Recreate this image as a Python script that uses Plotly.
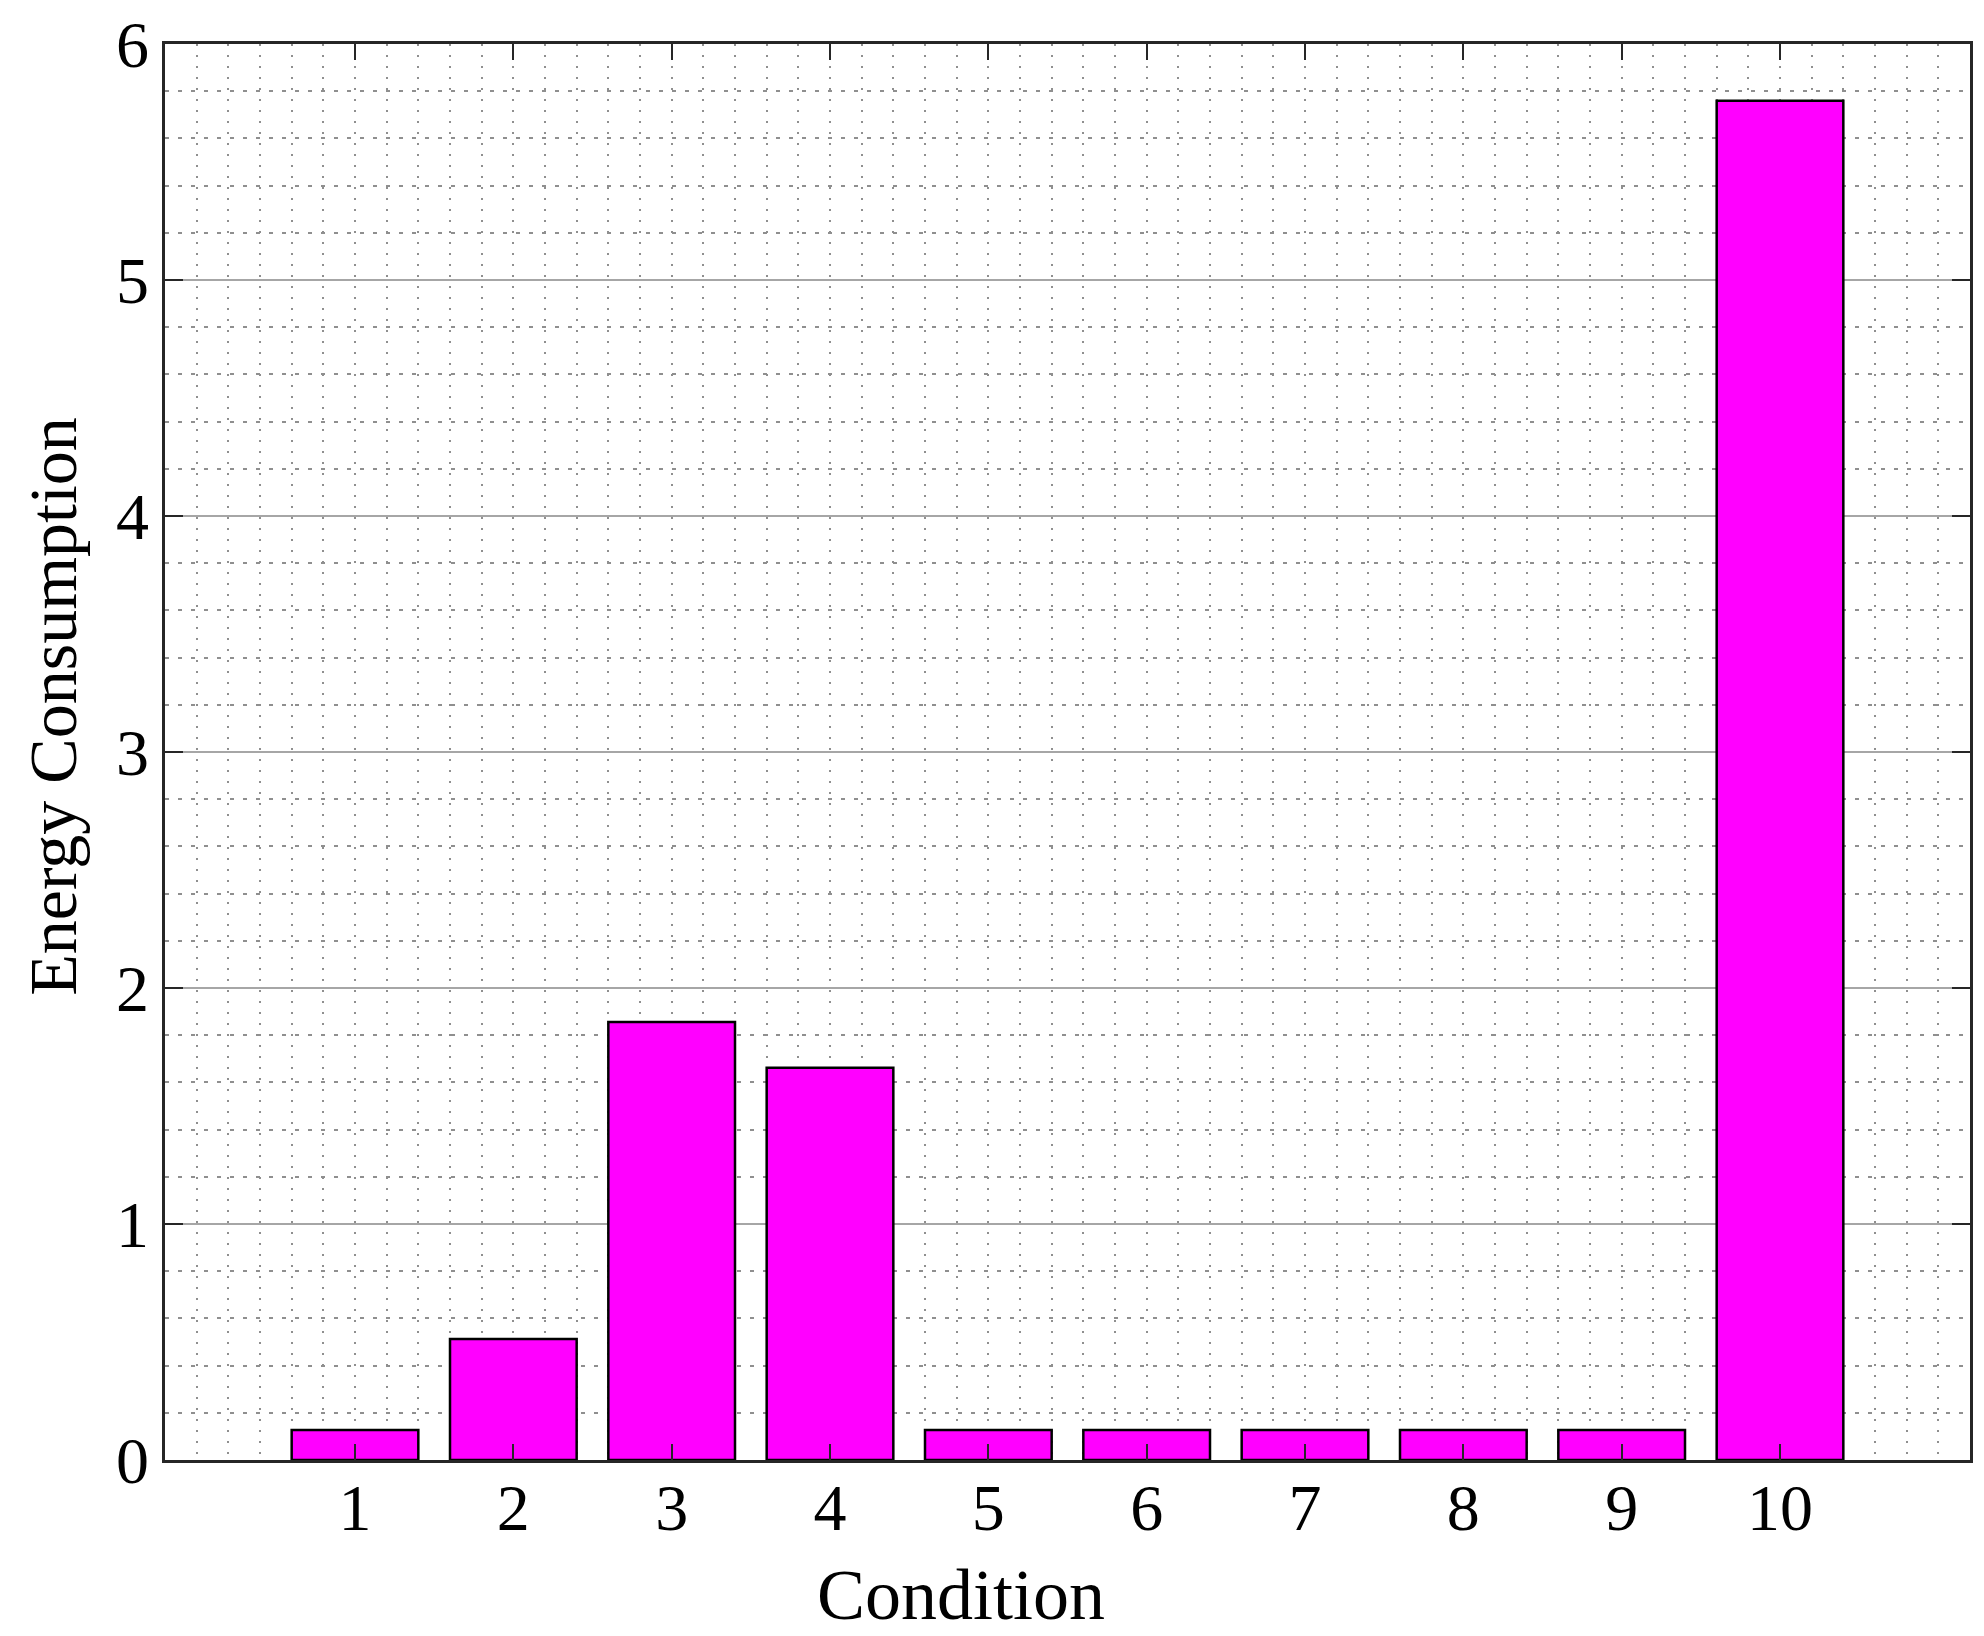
import plotly.graph_objects as go

# data
conditions = [1, 2, 3, 4, 5, 6, 7, 8, 9, 10]
energy = [0.127, 0.513, 1.856, 1.662, 0.127, 0.127, 0.127, 0.127, 0.127, 5.76]
y_ticks = [0, 1, 2, 3, 4, 5, 6]

serif = "Liberation Serif, Times New Roman, serif"
axis_col = "#262626"
dot_col = "#8f8f8f"

fig = go.Figure()
fig.add_trace(go.Bar(
    x=conditions, y=energy, width=0.8,
    marker=dict(color="#ff00ff", line=dict(color="black", width=2.5)),
))

fig.update_layout(
    width=1984, height=1636, autosize=False,
    margin=dict(l=157, r=22, t=36, b=184),
    plot_bgcolor="white", paper_bgcolor="white",
    showlegend=False,
    font=dict(family=serif, color="black", size=66),
)

fig.update_xaxes(
    range=[-0.2, 11.2], tickmode="array", tickvals=conditions,
    ticks="inside", ticklen=16, tickwidth=2, tickcolor=axis_col,
    showline=True, linecolor=axis_col, linewidth=2.5, mirror="ticks",
    showgrid=True, gridcolor=dot_col, gridwidth=1.5, griddash="2px,9px",
    minor=dict(dtick=0.2, tick0=0, showgrid=True, gridcolor=dot_col,
               gridwidth=1.5, griddash="2px,9px", ticks=""),
    tickfont=dict(family=serif, size=66, color="black"),
    ticklabelstandoff=-12,
    zeroline=False, automargin=False,
)
fig.update_yaxes(
    range=[0, 6], tickmode="array", tickvals=y_ticks,
    ticks="inside", ticklen=18, tickwidth=2, tickcolor=axis_col,
    showline=True, linecolor=axis_col, linewidth=2.5, mirror="ticks",
    showgrid=True, gridcolor="#a6a6a6", gridwidth=2,
    minor=dict(dtick=0.2, tick0=0, showgrid=True, gridcolor=dot_col,
               gridwidth=1.5, griddash="4px,9px", ticks=""),
    tickfont=dict(family=serif, size=66, color="black"),
    zeroline=False, automargin=False,
)

# axis titles sit off-centre in the original, so place them by hand
fig.add_annotation(text="Condition", xref="paper", yref="paper",
                   x=0.441, y=-0.0953, showarrow=False,
                   xanchor="center", yanchor="middle",
                   font=dict(family=serif, size=72, color="black"))
fig.add_annotation(text="Energy Consumption", xref="paper", yref="paper",
                   x=-0.062, y=0.532, showarrow=False, textangle=-90,
                   xanchor="center", yanchor="middle",
                   font=dict(family=serif, size=68, color="black"))

fig.write_html("out.html")
